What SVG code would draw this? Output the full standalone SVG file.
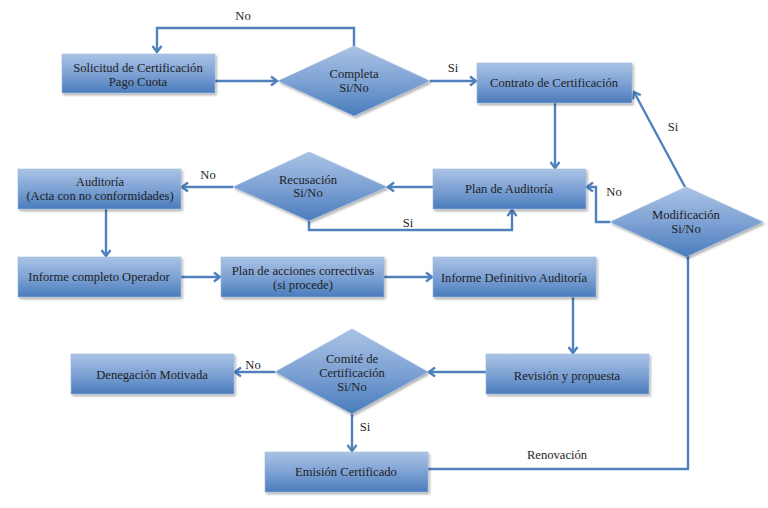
<svg xmlns="http://www.w3.org/2000/svg" width="768" height="508" viewBox="0 0 768 508">
<defs>
<linearGradient id="g" x1="0" y1="0" x2="0" y2="1">
<stop offset="0" stop-color="#aac3e5"/>
<stop offset="0.5" stop-color="#7ea2d4"/>
<stop offset="1" stop-color="#4a7cbc"/>
</linearGradient>
<filter id="sh" x="-10%" y="-10%" width="130%" height="140%">
<feDropShadow dx="1.5" dy="2" stdDeviation="1.2" flood-color="#000" flood-opacity="0.3"/>
</filter>
<marker id="ah" markerUnits="userSpaceOnUse" markerWidth="12" markerHeight="12" viewBox="0 0 12 12" refX="9" refY="6" orient="auto">
<path d="M3,1.5 L9,6 L3,10.5" fill="none" stroke="#4f81bd" stroke-width="2.4" stroke-linejoin="miter"/>
</marker>
<style>
.n rect, .n polygon { fill: url(#g); filter: url(#sh); stroke: #9fb9dd; stroke-width: 0.6; }
.t { font-family: "Liberation Serif", "DejaVu Serif", serif; font-size: 12.6px; fill: #1e1e1e; text-anchor: middle; }
.l { font-family: "Liberation Serif", "DejaVu Serif", serif; font-size: 12.6px; fill: #1e1e1e; text-anchor: middle; }
.c { fill: none; stroke: #4f81bd; stroke-width: 2.4; }
.a { marker-end: url(#ah); }
</style>
</defs>
<rect width="768" height="508" fill="#ffffff"/>

<g id="connectors">
<polyline class="c a" points="354,46 354,28 157,28 157,52"/>
<line class="c a" x1="215" y1="81" x2="277" y2="81"/>
<line class="c a" x1="430" y1="81" x2="476" y2="81"/>
<line class="c a" x1="555" y1="103" x2="555" y2="168"/>
<line class="c a" x1="685" y1="187" x2="634" y2="92"/>
<polyline class="c a" points="610,222 596,222 596,187 587,187"/>
<line class="c a" x1="433" y1="187" x2="388" y2="187"/>
<line class="c a" x1="233" y1="187" x2="182" y2="187"/>
<polyline class="c a" points="309,221 309,230 512,230 512,210"/>
<line class="c a" x1="106" y1="209" x2="106" y2="256"/>
<line class="c a" x1="181" y1="277" x2="220" y2="277"/>
<line class="c a" x1="384" y1="277" x2="432" y2="277"/>
<line class="c a" x1="573" y1="297" x2="573" y2="353"/>
<line class="c a" x1="486" y1="372" x2="429" y2="372"/>
<line class="c a" x1="275" y1="372" x2="235" y2="372"/>
<line class="c a" x1="352" y1="414" x2="352" y2="451"/>
<polyline class="c" points="686,257 688,257 688,469 428,469"/>
<text class="l" x="243" y="20">No</text>
<text class="l" x="453" y="72">Si</text>
<text class="l" x="673" y="131">Si</text>
<text class="l" x="614" y="196">No</text>
<text class="l" x="208" y="179">No</text>
<text class="l" x="408" y="227">Si</text>
<text class="l" x="253" y="369">No</text>
<text class="l" x="365" y="431">Si</text>
<text class="l" x="557" y="459">Renovación</text>
</g>

<g id="solicitud" class="n">
<rect x="62" y="54" width="153" height="39"/>
<text class="t" x="138" y="72">Solicitud de Certificación</text>
<text class="t" x="138" y="86">Pago Cuota</text>
</g>

<g id="completa" class="n">
<polygon points="278,81 354,46 430,81 354,116"/>
<text class="t" x="354" y="78">Completa</text>
<text class="t" x="354" y="92">Si/No</text>
</g>

<g id="contrato" class="n">
<rect x="477" y="63" width="155" height="40"/>
<text class="t" x="554" y="87">Contrato de Certificación</text>
</g>

<g id="plan-auditoria" class="n">
<rect x="433" y="169" width="153" height="40"/>
<text class="t" x="509" y="193">Plan de Auditoría</text>
</g>

<g id="modificacion" class="n">
<polygon points="610,222 686,187 763,222 686,257"/>
<text class="t" x="686" y="219">Modificación</text>
<text class="t" x="686" y="233">Si/No</text>
</g>

<g id="recusacion" class="n">
<polygon points="233,187 309,152 387,187 309,221"/>
<text class="t" x="308" y="184">Recusación</text>
<text class="t" x="308" y="197">Si/No</text>
</g>

<g id="auditoria" class="n">
<rect x="18" y="169" width="163" height="40"/>
<text class="t" x="100" y="186">Auditoría</text>
<text class="t" x="100" y="200">(Acta con no conformidades)</text>
</g>

<g id="informe-completo" class="n">
<rect x="18" y="257" width="163" height="40"/>
<text class="t" x="99" y="281">Informe completo Operador</text>
</g>

<g id="plan-acciones" class="n">
<rect x="221" y="257" width="163" height="40"/>
<text class="t" x="303" y="275">Plan de acciones correctivas</text>
<text class="t" x="303" y="289">(si procede)</text>
</g>

<g id="informe-definitivo" class="n">
<rect x="433" y="257" width="163" height="40"/>
<text class="t" x="514" y="282">Informe Definitivo Auditoría</text>
</g>

<g id="revision" class="n">
<rect x="486" y="354" width="163" height="40"/>
<text class="t" x="567" y="380">Revisión y propuesta</text>
</g>

<g id="comite" class="n">
<polygon points="275,372 352,329 428,372 352,414"/>
<text class="t" x="352" y="363">Comité de</text>
<text class="t" x="352" y="377">Certificación</text>
<text class="t" x="352" y="391">Si/No</text>
</g>

<g id="denegacion" class="n">
<rect x="71" y="354" width="163" height="40"/>
<text class="t" x="152" y="379">Denegación Motivada</text>
</g>

<g id="emision" class="n">
<rect x="265" y="452" width="163" height="40"/>
<text class="t" x="346" y="476">Emisión Certificado</text>
</g>
</svg>
